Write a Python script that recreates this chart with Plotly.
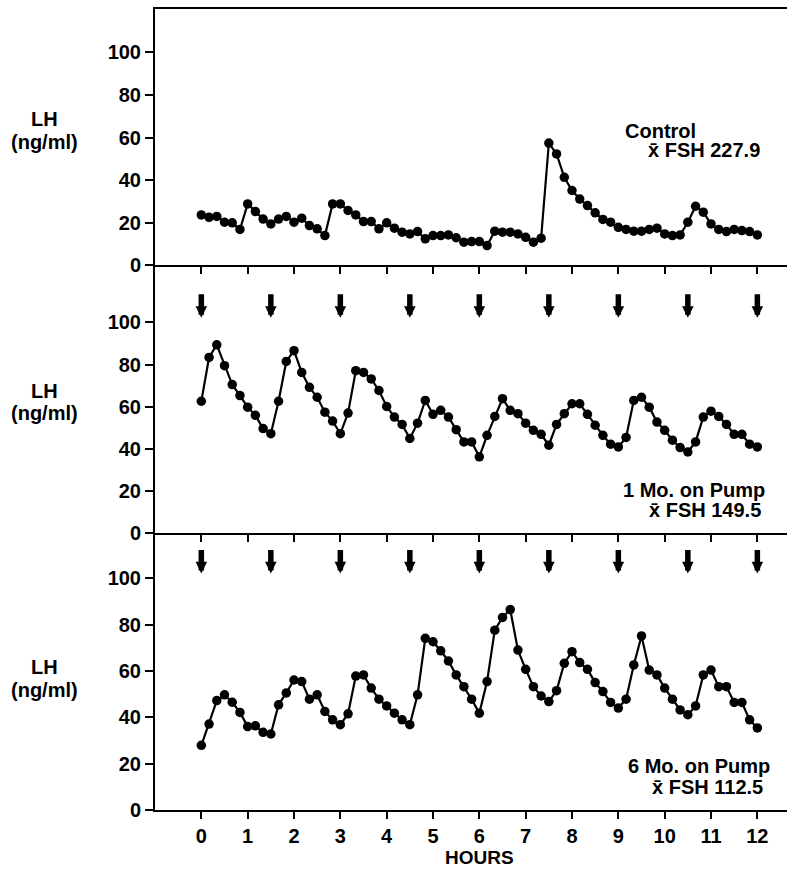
import plotly.graph_objects as go

# ---- data -------------------------------------------------------------
minutes = list(range(0, 721, 10))          # 10-minute sampling over 12 h
hours = [m / 60 for m in minutes]
hour_ticks = list(range(0, 13))
y_ticks = [0, 20, 40, 60, 80, 100]
pump_hours = [0, 1.5, 3, 4.5, 6, 7.5, 9, 10.5, 12]

lh_control = [23.6, 22.5, 22.9, 20.2, 19.9, 16.8, 28.8, 25.2, 21.7, 19.4,
              21.7, 22.9, 20.2, 22.1, 18.6, 17.1, 13.9, 28.8, 28.8, 25.7,
              23.6, 20.5, 20.5, 17.1, 19.9, 17.4, 15.5, 14.7, 15.8, 12.4,
              13.9, 13.9, 14.2, 12.9, 10.8, 11.1, 11.1, 9.2, 16.0, 15.5,
              15.5, 14.7, 13.1, 10.8, 12.7, 57.4, 52.3, 41.3, 35.1, 31.1,
              28.0, 24.6, 21.5, 20.2, 17.8, 16.8, 16.0, 16.0, 16.8, 17.4,
              14.7, 13.9, 14.2, 20.2, 27.7, 24.9, 19.4, 16.8, 15.8, 16.8,
              16.3, 15.8, 14.2]

lh_1mo = [62.6, 83.4, 89.4, 79.5, 70.5, 65.3, 59.8, 55.9, 49.6, 47.2,
          62.6, 81.5, 86.6, 76.3, 69.2, 64.5, 57.4, 53.2, 47.2, 57.0,
          77.1, 76.3, 73.2, 67.7, 60.1, 55.1, 51.6, 44.9, 52.2, 63.0,
          56.4, 58.3, 55.1, 49.1, 43.3, 43.3, 36.2, 46.4, 55.4, 63.8,
          58.3, 56.7, 52.2, 48.8, 46.9, 41.7, 51.6, 56.7, 61.4, 61.4,
          56.4, 51.2, 46.4, 42.2, 40.9, 45.4, 63.0, 64.5, 59.8, 52.7,
          48.8, 44.1, 40.6, 38.5, 43.3, 55.1, 57.9, 55.4, 51.6, 46.9,
          46.9, 42.2, 40.9]

lh_6mo = [27.9, 37.1, 47.2, 49.7, 46.5, 42.1, 36.0, 36.3, 33.5, 32.8,
          45.4, 50.5, 56.1, 55.4, 47.8, 49.7, 42.5, 38.9, 36.8, 41.5,
          57.8, 58.3, 52.6, 47.8, 44.9, 41.8, 38.9, 36.8, 49.7, 74.1,
          72.6, 68.7, 64.3, 58.3, 53.2, 47.8, 41.8, 55.4, 77.6, 83.1,
          86.5, 69.0, 60.7, 53.2, 49.2, 46.8, 51.5, 63.3, 68.3, 63.6,
          60.7, 55.0, 51.1, 46.4, 44.0, 47.8, 62.6, 75.1, 60.4, 58.3,
          52.6, 47.8, 43.2, 41.1, 44.9, 58.3, 60.4, 53.2, 53.2, 46.4,
          46.4, 38.9, 35.4]

panel_titles = ["Control", "1 Mo. on Pump", "6 Mo. on Pump"]
fsh_means = ["227.9", "149.5", "112.5"]

# ---- figure -----------------------------------------------------------
FONT = "Liberation Sans, Arial, Helvetica, sans-serif"
W, H = 797, 869
L, R, T, B = 155, 10, 7, 58.5
PW, PH = W - L - R, H - T - B


def px(xp):
    return (xp - L) / PW


def py(yp):
    return (H - B - yp) / PH


fig = go.Figure()
series = [(lh_control, "x", "y"), (lh_1mo, "x2", "y2"), (lh_6mo, "x3", "y3")]
for vals, xa, ya in series:
    fig.add_trace(go.Scatter(
        x=hours, y=vals, mode="lines+markers",
        line=dict(color="black", width=2.2),
        marker=dict(color="black", size=9.5),
        xaxis=xa, yaxis=ya, showlegend=False, cliponaxis=False))

tickfont = dict(family=FONT, size=20, color="black", weight="bold")
xcommon = dict(range=[-1.0, 12.64], showline=True, linewidth=2, linecolor="black",
               ticks="outside", tickvals=hour_ticks, ticklen=7, tickwidth=2,
               tickcolor="black", showgrid=False, zeroline=False, tickfont=tickfont)
ycommon = dict(showline=True, linewidth=2, linecolor="black", ticks="outside",
               tickvals=y_ticks, ticklen=8, tickwidth=2, tickcolor="black",
               showgrid=False, zeroline=False, tickfont=tickfont)

d3 = (810.5 - 532.7) / PH
d2 = (810.5 - 264.0) / PH

fig.update_layout(
    width=W, height=H,
    margin=dict(l=L, r=R, t=T, b=B),
    plot_bgcolor="white", paper_bgcolor="white",
    font=dict(family=FONT, color="black"),
    xaxis=dict(**xcommon, anchor="y", mirror=True, showticklabels=False),
    xaxis2=dict(**xcommon, anchor="y2", matches="x", showticklabels=False),
    xaxis3=dict(**xcommon, anchor="y3", matches="x", showticklabels=True),
    yaxis=dict(**ycommon, domain=[d2, 1], anchor="x", range=[0, 120.4]),
    yaxis2=dict(**ycommon, domain=[d3, d2], anchor="x2", range=[0, 127.2]),
    yaxis3=dict(**ycommon, domain=[0, d3], anchor="x3", range=[0, 119.5]),
)

ann = []
bold20 = dict(family=FONT, size=20, color="black", weight="bold")

# pump pulse arrows
for xr, yr, tip in [("x2", "y2", 102.2), ("x3", "y3", 102.1)]:
    for h in pump_hours:
        ann.append(dict(x=h, y=tip, xref=xr, yref=yr, text="", showarrow=True,
                        ax=0, ay=-25, arrowhead=2, arrowsize=0.42, arrowwidth=5.5,
                        arrowcolor="black"))

# y-axis labels
for ly1, ly2 in [(117, 140), (390, 412), (667, 690)]:
    ann.append(dict(x=px(45), y=py(ly1), xref="paper", yref="paper", text="LH",
                    showarrow=False, xanchor="center", yanchor="middle", font=bold20))
    ann.append(dict(x=px(45), y=py(ly2), xref="paper", yref="paper", text="(ng/ml)",
                    showarrow=False, xanchor="center", yanchor="middle", font=bold20))

# panel labels
ann.append(dict(x=px(623), y=py(129), xref="paper", yref="paper", text=panel_titles[0],
                showarrow=False, xanchor="left", yanchor="middle", font=bold20))
ann.append(dict(x=px(762), y=py(148), xref="paper", yref="paper",
                text="x\u0304 FSH " + fsh_means[0],
                showarrow=False, xanchor="right", yanchor="middle", font=bold20))
ann.append(dict(x=px(767), y=py(489), xref="paper", yref="paper", text=panel_titles[1],
                showarrow=False, xanchor="right", yanchor="middle", font=bold20))
ann.append(dict(x=px(763), y=py(510), xref="paper", yref="paper",
                text="x\u0304 FSH " + fsh_means[1],
                showarrow=False, xanchor="right", yanchor="middle", font=bold20))
ann.append(dict(x=px(772), y=py(766), xref="paper", yref="paper", text=panel_titles[2],
                showarrow=False, xanchor="right", yanchor="middle", font=bold20))
ann.append(dict(x=px(765), y=py(787), xref="paper", yref="paper",
                text="x\u0304 FSH " + fsh_means[2],
                showarrow=False, xanchor="right", yanchor="middle", font=bold20))

# x-axis title
ann.append(dict(x=px(479.3), y=py(858), xref="paper", yref="paper", text="HOURS",
                showarrow=False, xanchor="center", yanchor="middle", borderpad=0,
                font=dict(family=FONT, size=19, color="black", weight="bold")))

fig.update_layout(annotations=ann)
fig.write_html("out.html",
               config={"displayModeBar": False},
               post_script="document.body.style.margin='0';"
                           "document.body.style.overflow='hidden';")
